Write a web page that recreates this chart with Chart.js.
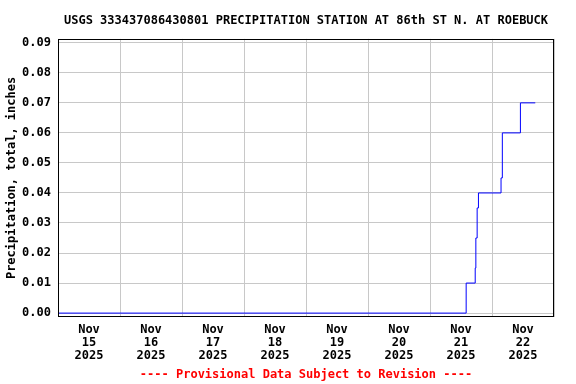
<!DOCTYPE html>
<html>
<head>
<meta charset="utf-8">
<script src="https://cdn.jsdelivr.net/npm/chart.js@4"></script>
<style>
  html, body { margin: 0; padding: 0; background: #ffffff; }
  #wrap { width: 576px; height: 384px; }
</style>
</head>
<body>
<div id="wrap"><canvas id="graph" width="576" height="384"></canvas></div>
<script>
"use strict";

// Achsen und Texte
const chart_title = "USGS 333437086430801 PRECIPITATION STATION AT 86th ST N. AT ROEBUCK";
const footer_text = "---- Provisional Data Subject to Revision ----";
const y_title = "Precipitation, total, inches";
const start_time = "2025-11-15T00:00";
const day_labels = ["15", "16", "17", "18", "19", "20", "21", "22"];
const month_label = "Nov";
const year_label = "2025";
const y_ticks = [0, 0.01, 0.02, 0.03, 0.04, 0.05, 0.06, 0.07, 0.08, 0.09];

// Stufen der Niederschlagssumme
const step_times = [
  "2025-11-15T00:00",
  "2025-11-21T14:00",
  "2025-11-21T17:30",
  "2025-11-21T17:45",
  "2025-11-21T18:15",
  "2025-11-21T18:45",
  "2025-11-22T03:30",
  "2025-11-22T04:00",
  "2025-11-22T11:00",
  "2025-11-22T16:45",
];
const step_values = [0, 0.01, 0.015, 0.025, 0.035, 0.04, 0.045, 0.06, 0.07, 0.07];

const font_mono = "'DejaVu Sans Mono', 'Liberation Mono', monospace";

function to_days(time) {
  return (Date.parse(time) - Date.parse(start_time)) / 86400000;
}

let points = step_times.map((t, i) => ({ x: to_days(t), y: step_values[i] }));

// Gitterlinien an Tagesgrenzen, Beschriftung in Tagesmitte
let x_tick_values = [];
for (let d = 0; d <= day_labels.length; d++) {
  x_tick_values.push(d);
  if (d < day_labels.length) x_tick_values.push(d + 0.5);
}

Chart.defaults.font.family = font_mono;
Chart.defaults.font.size = 12;
Chart.defaults.font.weight = "bold";
Chart.defaults.color = "#000000";

let config = {
  type: "line",
  data: {
    datasets: [
      {
        label: "precip",
        data: points,
        borderColor: "#0000ff",
        borderWidth: 1,
        pointRadius: 0,
        stepped: true,
        fill: false,
      },
    ],
  },
  options: {
    responsive: false,
    animation: false,
    layout: { padding: { left: 0, right: 22, top: 0, bottom: 0 } },
    plugins: {
      legend: { display: false },
      tooltip: { enabled: false },
      title: {
        display: true,
        text: chart_title,
        fullSize: false,
        font: { size: 12, weight: "bold", lineHeight: 1.2 },
        color: "#000000",
        padding: { top: 13.5, bottom: 11 },
      },
      subtitle: {
        display: true,
        text: footer_text,
        position: "bottom",
        fullSize: false,
        font: { size: 12, weight: "bold", lineHeight: 1.2 },
        color: "#ff0000",
        padding: { top: 0.6, bottom: 2 },
      },
    },
    scales: {
      x: {
        type: "linear",
        min: 0,
        max: day_labels.length,
        afterBuildTicks: (scale) => {
          scale.ticks = x_tick_values.map((v) => ({ value: v }));
        },
        afterFit: (scale) => {
          scale.height = 50;
        },
        grid: {
          drawTicks: false,
          color: (ctx) => (ctx.tick && Number.isInteger(ctx.tick.value) ? "#c8c8c8" : "rgba(0,0,0,0)"),
          lineWidth: 1,
        },
        border: { display: false },
        ticks: {
          autoSkip: false,
          maxRotation: 0,
          minRotation: 0,
          padding: 6,
          font: { size: 12, weight: "bold", lineHeight: 1.1 },
          callback: function (value) {
            if (Number.isInteger(value)) return "";
            let i = Math.floor(value);
            return [month_label, day_labels[i], year_label];
          },
        },
      },
      y: {
        type: "linear",
        min: -0.0013,
        max: 0.0913,
        afterBuildTicks: (scale) => {
          scale.ticks = y_ticks.map((v) => ({ value: v }));
        },
        afterFit: (scale) => {
          scale.width = 58;
        },
        grid: { drawTicks: false, color: "#c8c8c8", lineWidth: 1 },
        border: { display: false },
        ticks: {
          padding: 7,
          callback: function (value) {
            return value.toFixed(2);
          },
        },
        title: {
          display: true,
          text: y_title,
          font: { size: 12, weight: "bold", lineHeight: 1.2 },
          padding: { top: 5, bottom: 0 },
        },
      },
    },
  },
  plugins: [
    {
      // Rahmen um die Zeichenflaeche
      id: "frame",
      afterDraw(chart) {
        const { ctx, chartArea } = chart;
        const left = Math.round(chartArea.left);
        const top = Math.round(chartArea.top);
        const right = Math.round(chartArea.right);
        const bottom = Math.round(chartArea.bottom);
        ctx.save();
        ctx.strokeStyle = "#000000";
        ctx.lineWidth = 1;
        ctx.strokeRect(left + 0.5, top + 0.5, right - left - 1, bottom - top - 1);
        ctx.restore();
      },
    },
  ],
};

let my_chart = new Chart(document.getElementById("graph"), config);
</script>
</body>
</html>
